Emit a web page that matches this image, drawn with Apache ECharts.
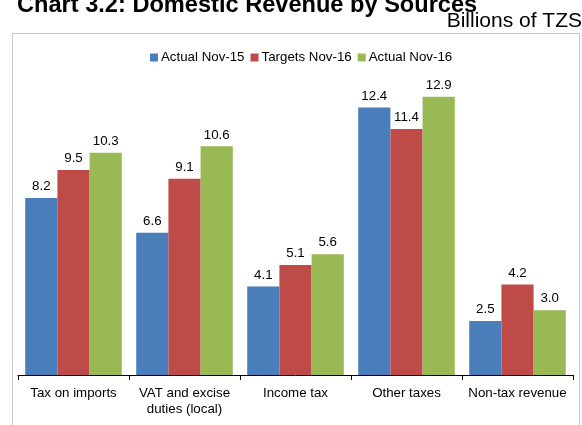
<!DOCTYPE html>
<html>
<head>
<meta charset="utf-8">
<script src="https://cdn.jsdelivr.net/npm/echarts@6/dist/echarts.min.js"></script>
<style>
  html, body { margin: 0; padding: 0; background: #fff; }
  #chart { width: 582px; height: 425px; }
</style>
</head>
<body>
<div id="chart"></div>
<script>
// Domestic revenue by source, billions of TZS
const categories = ['Tax on imports', 'VAT and excise\nduties (local)', 'Income tax', 'Other taxes', 'Non-tax revenue'];
const actualNov15 = [8.2, 6.6, 4.1, 12.4, 2.5];
const targetsNov16 = [9.5, 9.1, 5.1, 11.4, 4.2];
const actualNov16 = [10.3, 10.6, 5.6, 12.9, 3.0];
const seriesNames = ['Actual Nov-15', 'Targets Nov-16', 'Actual Nov-16'];
const seriesColors = ['#4a7ebb', '#be4b48', '#98b954'];

const FONT = '"Liberation Sans", Arial, sans-serif';
const TEXT_SIZE = 13.3;

const chart = echarts.init(document.getElementById('chart'), null, { renderer: 'canvas' });

function barSeries(name, data, color) {
  return {
    name: name,
    type: 'bar',
    data: data,
    barGap: '0%',
    barCategoryGap: '13%',
    itemStyle: { color: color },
    label: {
      show: true,
      position: 'top',
      distance: 5,
      color: '#000',
      fontFamily: FONT,
      fontSize: TEXT_SIZE,
      formatter: p => p.value.toFixed(1)
    }
  };
}

chart.setOption({
  animation: false,
  title: [
    {
      text: 'Chart 3.2: Domestic Revenue by Sources',
      left: 12,
      top: -12,
      textStyle: { fontFamily: FONT, fontSize: 23.6, fontWeight: 'bold', color: '#000' }
    },
    {
      text: 'Billions of TZS',
      right: 0,
      top: 11,
      padding: 0,
      textStyle: { fontFamily: FONT, fontSize: 21, fontWeight: 'normal', color: '#000' }
    }
  ],
  graphic: [
    {
      type: 'rect',
      shape: { x: 12.5, y: 33.5, width: 567, height: 420 },
      style: { fill: 'none', stroke: '#c8c8c8', lineWidth: 1 },
      silent: true
    }
  ],
  legend: {
    data: seriesNames,
    top: 51,
    left: 150,
    padding: 0,
    itemWidth: 8,
    itemHeight: 8,
    itemGap: 6,
    icon: 'rect',
    textStyle: { fontFamily: FONT, fontSize: TEXT_SIZE, color: '#000', padding: [0, 0, 0, -2] }
  },
  grid: { left: 18, right: 9, top: 73, bottom: 50, containLabel: false },
  xAxis: {
    type: 'category',
    data: categories,
    axisLine: { lineStyle: { color: '#000', width: 1 } },
    axisTick: { show: true, length: 5, lineStyle: { color: '#000' } },
    axisLabel: { color: '#000', fontFamily: FONT, fontSize: TEXT_SIZE, margin: 10, lineHeight: 16.5, interval: 0 }
  },
  yAxis: {
    type: 'value',
    min: 0,
    max: 14,
    show: false,
    splitLine: { show: false }
  },
  series: [
    barSeries(seriesNames[0], actualNov15, seriesColors[0]),
    barSeries(seriesNames[1], targetsNov16, seriesColors[1]),
    barSeries(seriesNames[2], actualNov16, seriesColors[2])
  ]
});
</script>
</body>
</html>
